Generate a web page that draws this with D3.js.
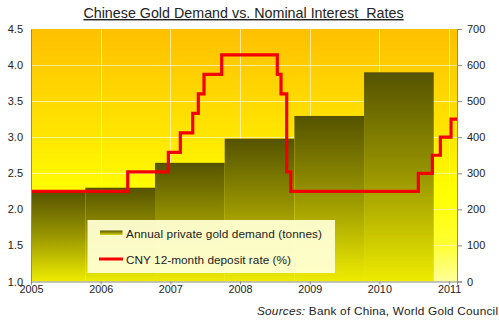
<!DOCTYPE html>
<html><head><meta charset="utf-8">
<script src="https://cdn.jsdelivr.net/npm/d3@7"></script>
<style>
html,body{margin:0;padding:0;background:#fff;}
svg text{font-family:"Liberation Sans",Arial,sans-serif;fill:#222;}
</style></head>
<body>
<svg id="c" width="499" height="324"></svg>
<script>
// ---- data ----
const years = [2005, 2006, 2007, 2008, 2009, 2010];
const demand = [250, 260, 329, 396, 459, 580];           // tonnes (right axis)
const rateDates = [2005, 2006.388, 2006.971, 2007.143, 2007.321, 2007.401, 2007.483, 2007.737,
                   2008.535, 2008.588, 2008.670, 2008.728, 2010.559, 2010.760, 2010.875, 2011.028];
const rates = [2.25, 2.52, 2.79, 3.06, 3.33, 3.60, 3.87, 4.14,
               3.87, 3.60, 2.52, 2.25, 2.50, 2.75, 3.00, 3.25]; // % (left axis)
const xTicks = [2005, 2006, 2007, 2008, 2009, 2010, 2011];
const leftTicks = [1.0, 1.5, 2.0, 2.5, 3.0, 3.5, 4.0, 4.5];
const rightTicks = [0, 100, 200, 300, 400, 500, 600, 700];
const xDomain = [2005, 2011.114];
const barOffset = [-0.22, 0.78];
const titleText = "Chinese Gold Demand vs. Nominal Interest  Rates";
const legendLabels = ["Annual private gold demand (tonnes)", "CNY 12-month deposit rate (%)"];

// ---- layout ----
const L = 31, R = 457, T = 29, B = 281.5;
const svg = d3.select("#c");
const x = d3.scaleLinear().domain(xDomain).range([L, R]);
const yL = d3.scaleLinear().domain([1, 4.5]).range([B, T]);
const yR = d3.scaleLinear().domain([0, 700]).range([B, T]);

const defs = svg.append("defs");
const bg = defs.append("linearGradient").attr("id", "bg").attr("x1", 0).attr("y1", 0).attr("x2", 0).attr("y2", 1);
[[0, "#ffc000"], [0.4, "#ffe400"], [0.65, "#ffff00"], [0.85, "#ffff30"], [1, "#ffff9a"]]
  .forEach(s => bg.append("stop").attr("offset", s[0]).attr("stop-color", s[1]));
const bar = defs.append("linearGradient").attr("id", "bar").attr("x1", 0).attr("y1", 0).attr("x2", 0).attr("y2", 1);
[[0, "#555300"], [0.5, "#9a9700"], [1, "#eeec00"]]
  .forEach(s => bar.append("stop").attr("offset", s[0]).attr("stop-color", s[1]));
const legG = defs.append("linearGradient").attr("id", "legbar").attr("x1", 0).attr("y1", 0).attr("x2", 0).attr("y2", 1);
[[0, "#555300"], [1, "#d8d600"]].forEach(s => legG.append("stop").attr("offset", s[0]).attr("stop-color", s[1]));
defs.append("clipPath").attr("id", "clip").append("rect")
  .attr("x", L).attr("y", T).attr("width", R - L).attr("height", B - T);

// background
svg.append("rect").attr("x", L).attr("y", T).attr("width", R - L).attr("height", B - T).attr("fill", "url(#bg)");

// gridlines
const grid = svg.append("g").attr("stroke", "#fff6c8").attr("stroke-opacity", 0.75).attr("stroke-width", 1);
grid.selectAll("line.v").data(xTicks.slice(1)).join("line")
  .attr("x1", d => Math.round(x(d)) + 0.5).attr("x2", d => Math.round(x(d)) + 0.5)
  .attr("y1", T).attr("y2", B);
grid.selectAll("line.h").data(leftTicks.slice(1, -1)).join("line")
  .attr("x1", L).attr("x2", R)
  .attr("y1", d => Math.round(yL(d)) + 0.5).attr("y2", d => Math.round(yL(d)) + 0.5);

// bars
const plot = svg.append("g").attr("clip-path", "url(#clip)");
plot.selectAll("rect.bar").data(years).join("rect")
  .attr("x", d => x(d + barOffset[0]))
  .attr("width", d => x(d + barOffset[1]) - x(d + barOffset[0]))
  .attr("y", (d, i) => yR(demand[i]))
  .attr("height", (d, i) => B - yR(demand[i]))
  .attr("fill", "url(#bar)");

// rate line
const pts = rateDates.map((d, i) => [d, rates[i]]);
pts.push([xDomain[1], rates[rates.length - 1]]);
plot.append("path").datum(pts)
  .attr("d", d3.line().x(d => x(d[0])).y(d => yL(d[1])).curve(d3.curveStepAfter))
  .attr("fill", "none").attr("stroke", "#f20000").attr("stroke-width", 3.2)
  .attr("stroke-linejoin", "miter");

// axes
const axisColor = "#888";
const gL = svg.append("g").attr("transform", `translate(${L},0)`)
  .call(d3.axisLeft(yL).tickValues(leftTicks).tickFormat(d3.format(".1f")).tickSize(0).tickPadding(8));
const gR = svg.append("g").attr("transform", `translate(${R},0)`)
  .call(d3.axisRight(yR).tickValues(rightTicks).tickSize(5).tickPadding(5));
const gB = svg.append("g").attr("transform", `translate(0,${B})`)
  .call(d3.axisBottom(x).tickValues(xTicks).tickFormat(d3.format("d")).tickSize(3).tickPadding(1));
[gL, gR, gB].forEach(g => {
  g.select(".domain").attr("stroke", axisColor);
  g.selectAll(".tick line").attr("stroke", axisColor);
  g.selectAll("text").attr("font-size", 11).attr("fill", "#222");
});
gB.selectAll("text").attr("font-size", 10.8);

// title
svg.append("text").attr("x", 243.5).attr("y", 18).attr("text-anchor", "middle")
  .attr("font-size", 14.3).attr("text-decoration", "underline").attr("fill", "#222")
  .style("white-space", "pre").text(titleText);

// sources
const src = svg.append("text").attr("x", 257).attr("y", 315).attr("font-size", 11.8)
  .attr("textLength", 241).attr("lengthAdjust", "spacing");
src.append("tspan").attr("font-style", "italic").text("Sources:");
src.append("tspan").text(" Bank of China, World Gold Council");

// legend
const leg = svg.append("g");
leg.append("rect").attr("x", 87.5).attr("y", 220).attr("width", 247.5).attr("height", 53)
  .attr("fill", "#ffffd2").attr("fill-opacity", 0.95);
leg.append("rect").attr("x", 100).attr("y", 230.5).attr("width", 22.5).attr("height", 4.5).attr("fill", "url(#legbar)");
leg.append("line").attr("x1", 99).attr("x2", 123).attr("y1", 259).attr("y2", 259)
  .attr("stroke", "#f20000").attr("stroke-width", 3);
const legW = [196, 165];
leg.selectAll("text").data(legendLabels).join("text")
  .attr("x", 126).attr("y", (d, i) => 237.5 + i * 26.5).attr("font-size", 11.8).attr("fill", "#222")
  .attr("textLength", (d, i) => legW[i]).attr("lengthAdjust", "spacing")
  .text(d => d);
</script>
</body></html>
